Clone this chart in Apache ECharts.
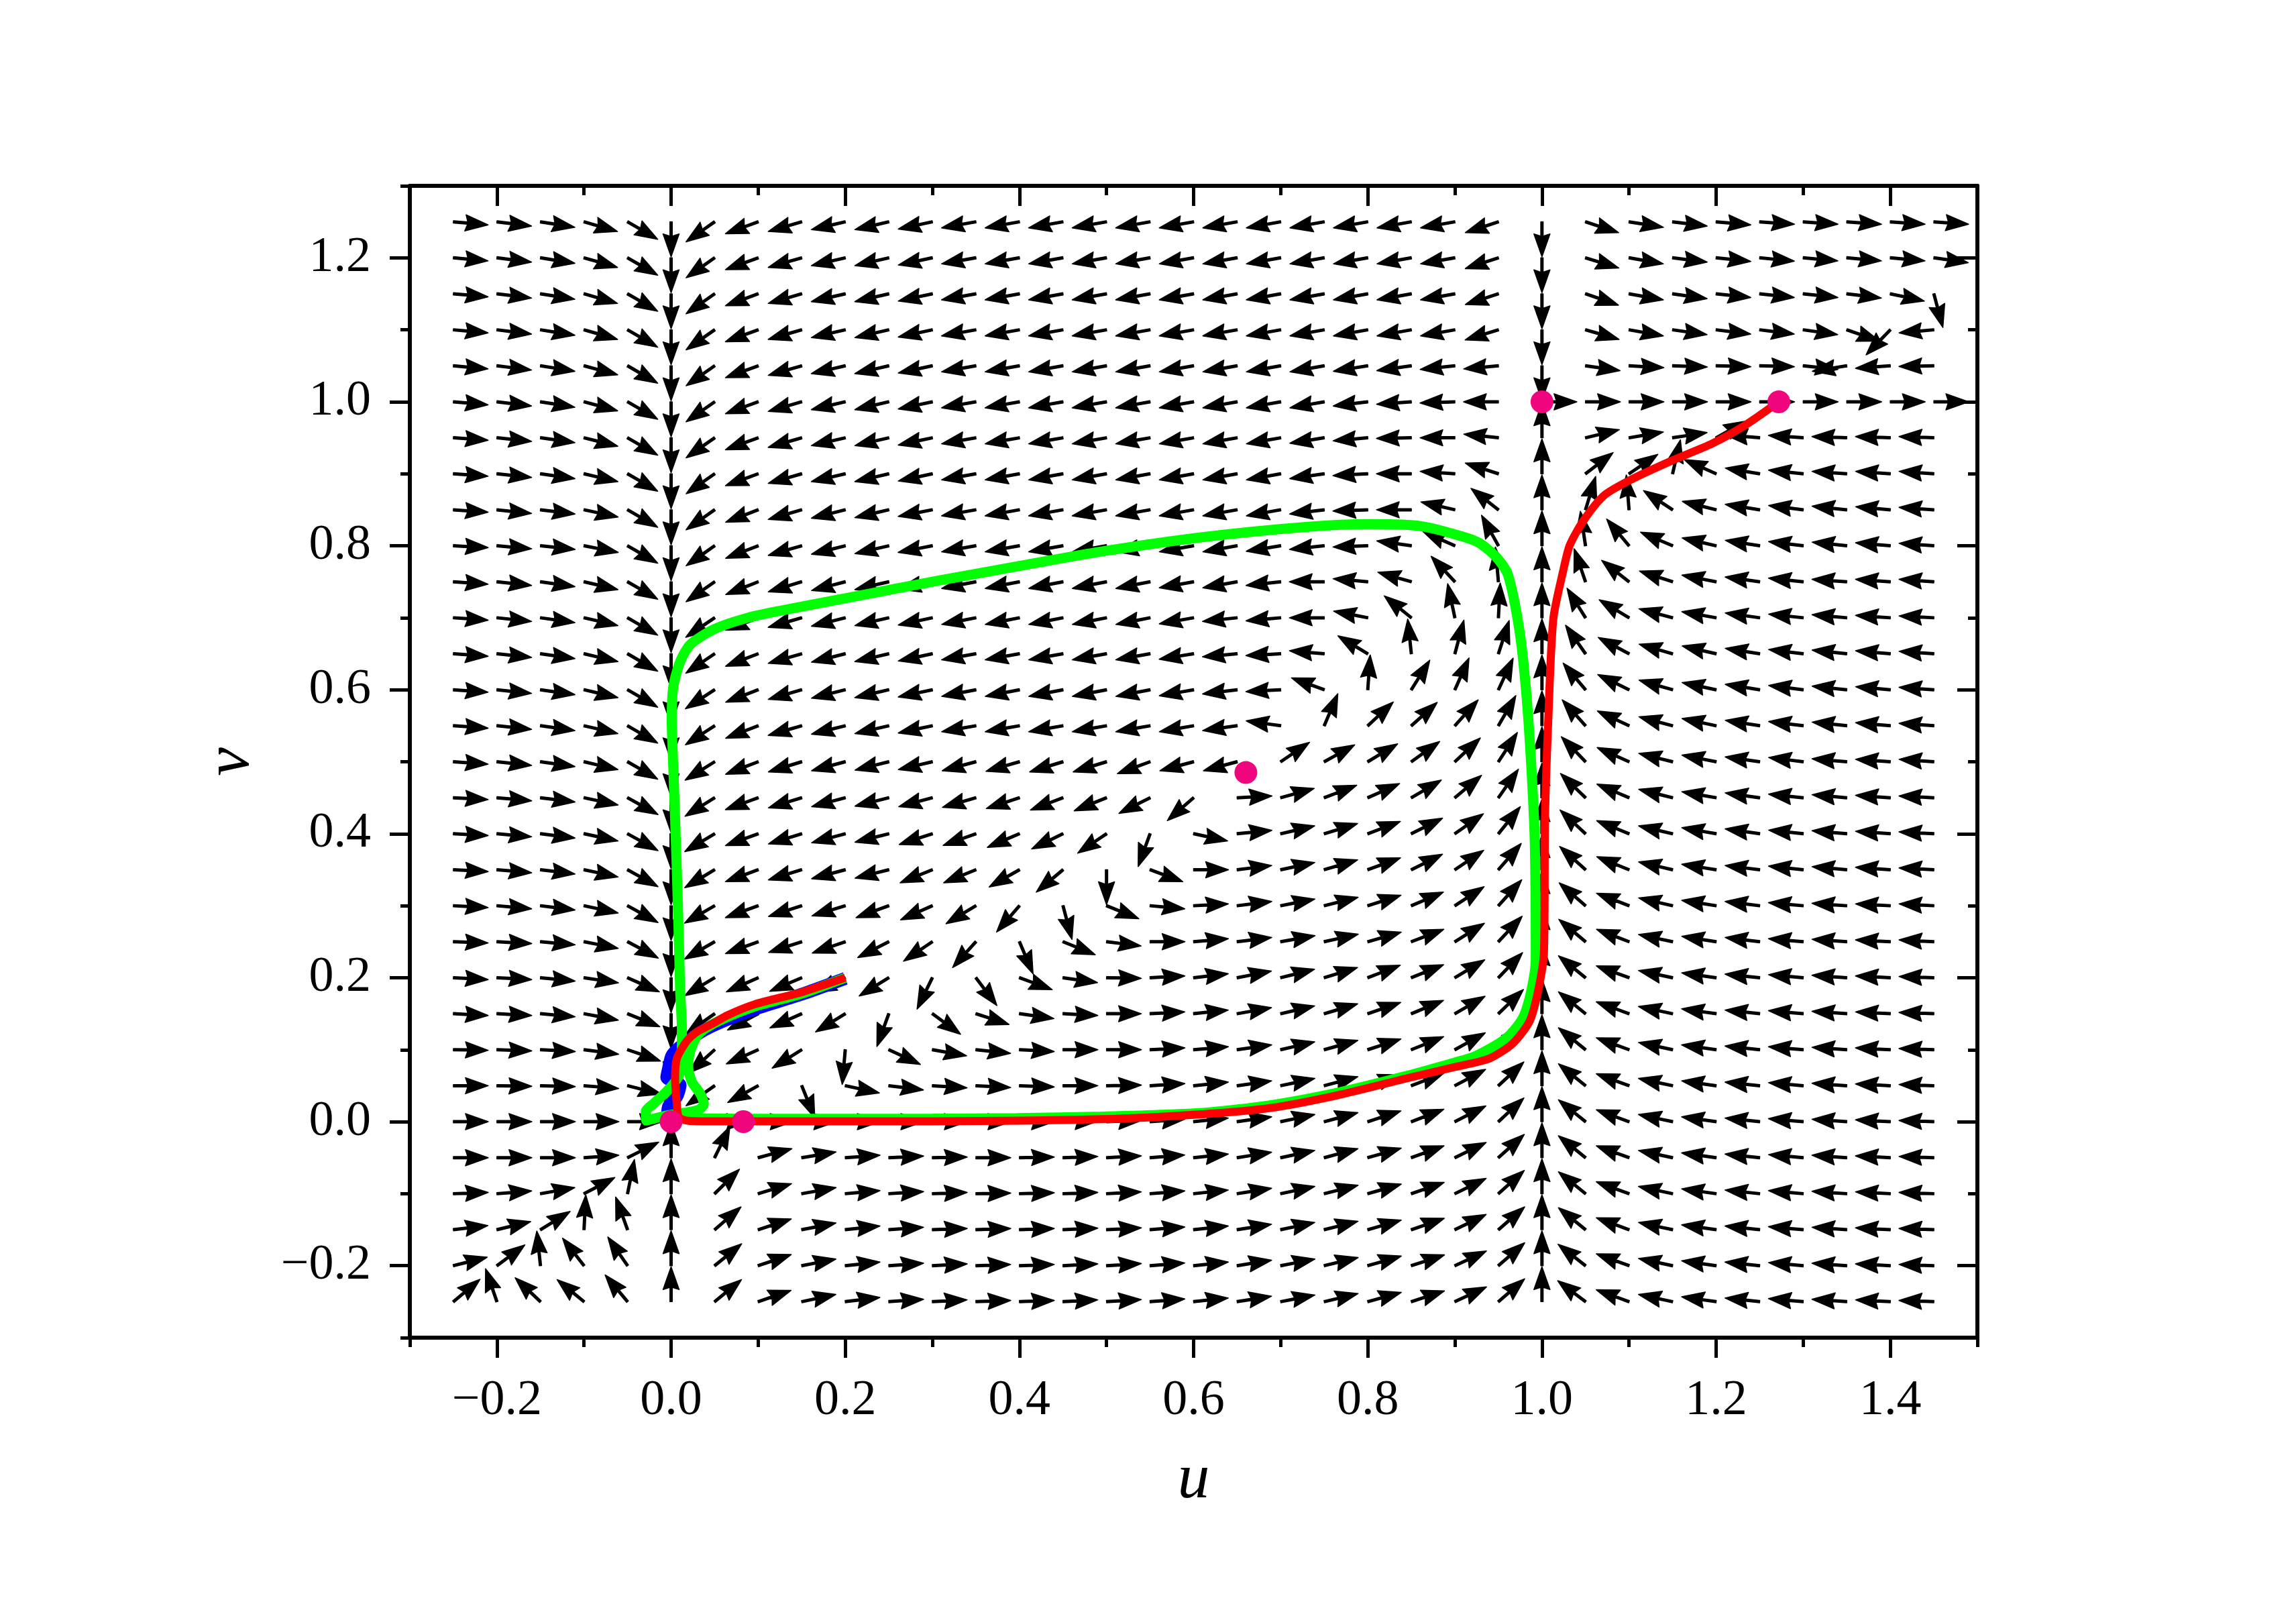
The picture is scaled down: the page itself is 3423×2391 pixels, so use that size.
<!DOCTYPE html>
<html>
<head>
<meta charset="utf-8">
<script src="https://cdn.jsdelivr.net/npm/echarts@6/dist/echarts.min.js"></script>
<style>
html,body{margin:0;padding:0;background:#fff;}
#chart{width:3423px;height:2391px;}
</style>
</head>
<body>
<div id="chart"></div>
<script>
// ---------------- data ----------------
// quiver grid (tail positions)
const uCols = [-0.25,-0.2,-0.15,-0.1,-0.05,0,0.05,0.1,0.15,0.2,0.25,0.3,0.35,0.4,0.45,0.5,0.55,0.6,0.65,0.7,0.75,0.8,0.85,0.9,0.95,1.0,1.05,1.1,1.15,1.2,1.25,1.3,1.35,1.4,1.45];
const vRows = [1.25,1.2,1.15,1.1,1.05,1.0,0.95,0.9,0.85,0.8,0.75,0.7,0.65,0.6,0.55,0.5,0.45,0.4,0.35,0.3,0.25,0.2,0.15,0.1,0.05,0,-0.05,-0.1,-0.15,-0.2,-0.25];
// arrow direction on screen, degrees counter-clockwise from +u (null = no arrow)
const arrowAngles = [
/*1.25*/ [-5,-7,-9,-16,-30,270,215,200,196,193,193,192,190,190,190,190,190,190,190,190,190,190,190,190,198,270,-18,-9,-7,-5,-4,-4,-4,-4,-4],
/*1.20*/ [-5,-7,-9,-16,-30,270,215,200,196,193,193,192,190,190,190,190,190,190,190,190,190,190,190,190,198,270,-17,-10,-7,-6,-5.5,-5,-5,-5,-8],
/*1.15*/ [-5,-7,-9,-16,-30,270,215,200,196,193,193,192,190,190,190,190,190,190,190,190,190,190,190,190,198,270,-19,-10,-8,-6,-6,-6,-7,-12,-75],
/*1.10*/ [-5,-7,-9,-16,-30,270,215,200,196,193,193,192,190,190,190,190,190,190,190,190,190,190,190,190,197,270,-16,-10,-8,-7,-7,-8,-19,226,185],
/*1.05*/ [-5,-7,-9,-15,-30,270,215,200,196,193,193,192,190,190,190,190,190,190,190,190,190,189,188,186,185,270,-8,-3,-2,-1.5,-1.5,-6,189,184,181],
/*1.00*/ [-5,-7,-9,-15,-30,270,215,200,196,193,193,192,190,190,190,190,190,190,190,190,190,187,184,182,180,0,0,0,0,0,0,0,0,0,0],
/*0.95*/ [-4,-6,-8,-14,-30,270,215,200,196,193,193,192,190,190,190,190,190,190,190,190,189,185,181,180,174,90,13.5,9.6,8.6,29,175,176,178,178,178],
/*0.90*/ [-4,-6,-8,-13,-30,270,215,200,196,193,193,192,190,190,190,190,190,190,190,190,188,183,180,176,162,90,37.5,34,77,156,170.5,174,176,176,176],
/*0.85*/ [-4,-6,-7,-12,-30,270,215,201,196,194,193,191,190,190,190,190,190,190,190,190,187,182,180,167,142,90,73,94.5,146.6,166,171,173,174,175,176],
/*0.80*/ [-3,-5,-6,-11,-30,270,215,201,196,194,193,191,190,190,190,190,190,190,190,189,186,182,172,156,119,90,98.5,130,157,167,171,173,174,175,176],
/*0.75*/ [-4,-6,-8,-13,-30,270,215,201.6,196.7,194.6,193,192,191,191,191,191,191,190,190,186,180,175,164,133,95,90,109,142,162,169,172,174,176,176,176],
/*0.70*/ [-4,-6,-8,-13,-30,270,214,201,196,194,193,192,191,191,191,191,191,190,186,185,180,169,141,102,87,90,122,149,165,170,172,174,175,176,177],
/*0.65*/ [-4,-6,-8,-13,-30,270,214,201,196,194,193,192,190,190,190,190,190,189,185,183,175,149,96,75,72,90,125,152,164,167,171,173,174,175,176],
/*0.60*/ [-4,-6,-8,-13,-30,270,213,201,196,194,193,192,191,191,191,191,191,190,187,183,160,86,58,66,65,90,130,154,164,168,171,173,174,175,176],
/*0.55*/ [-4,-6,-8,-13,-30,270,213,201,196,194,193,192,190,190,190,190,190,190,188,172,67,43,42,48,60,90,132,155,165,168,171,173,174,175,176],
/*0.50*/ [-4,-6,-8,-13,-30,270,212,201,197,195,194,193,195,196,197,197,200,195,195,34,29,31,35.5,43,57,90,134,156,166,169,172,173,175,176,176],
/*0.45*/ [-3,-5,-7,-12,-29,270,212,200,197,195,194,195,196,198,200.7,202,206.7,221,3,15.6,21,24,30.5,40,55,90,136,157,166,170,172,174,175,176,177],
/*0.40*/ [-3,-5,-7,-12,-29,270,211,200,197,195,194,198,199.6,203,206,214,250,348,5.5,13,17,20.7,26.5,35,51,90,137,158,167,170,172,174,175,176,177],
/*0.35*/ [-3,-5,-7,-12,-29,270,211,200,197,195,194,202,202,209.6,220,270,340,0,7,12,16.5,20,26.5,34,49,90,138,158,167,171,173,174,175,176,177],
/*0.30*/ [-3,-5,-7,-12,-29,270,210,200,198,197,200,204,211,229,285,338,355,3,7,11,14,17.5,23,33,48,90,139,159,167,171,173,175,176,177,177],
/*0.25*/ [-2,-3,-5,-11,-28,270,210,200,198,199,207,214,228,293,338,353,0,5,7,10,12.5,16,21,32,47,90,140,159,168,171,173,175,176,177,177],
/*0.20*/ [-3,-3,-5.5,-8.5,-24,270,211,204,203,205,211.6,244,307,340,352,359,3,6.5,11,14,17,21,22,31,46,90,141,160,168,172,174,175,176,177,178],
/*0.15*/ [-3,-3,-5,-10.7,-22,270,215,208,204,211.5,250,324,342,352,357,0,3,6,10,13,16.5,19,22.5,30,44,90,141,160,168,172,174,175,176,177,178],
/*0.10*/ [-1,-2,-3,-7.5,-19,270,222,204,212,265,335,350,354,357,0,0,3,5,8,13,15.5,18,22,29,44,90,141,160,168,172,174,175,176,177,178],
/*0.05*/ [0,-1,-1.5,-4.6,-14,270,215,209,292,348,353,356.5,357,358,0,1,3.5,6,8,12,15,18,21,28,43,90,141,160,168,172,174,175,176,177,178],
/*0.00*/ [0,0,0,0,0,null,0,0,0,0,0,0,0,0,1,2,4,6,8,12,15,18,21,27,43,90,141,160,168,172,174,175,176,177,178],
/*-0.05*/[0,0,0,4,26.6,90,64,15,9.5,4,2.7,1,0,1,2,3,4.5,6,9,12,15,16,20,26,42,90,141,160,168,172,174,175,176,177,178],
/*-0.10*/[2,4.5,10,27.7,78.6,90,44.6,16.7,10,5,3.5,2,1,1.5,2,3,4.5,6,9,12,14,16,19,26,42,90,141,160,168,172,174,175,176,177,178],
/*-0.15*/[6.8,13.5,31.6,87,110,90,40.8,18,11,6,4,2,2,2,2.5,3,4.5,6,9,12,14,16,19,26,41,90,141,160,168,172,174,175,176,177,178],
/*-0.20*/[14,36.6,96,128,124.6,90,39,18.6,11,6,4,3,2,2,3,3.5,4.5,6,9,11,13.5,16,18,25,41,90,142,160,168,172,174,175,176,177,178],
/*-0.25*/[40,109,136.6,140.6,130,90,39.4,19,12,7,4,3,2,2,3,3.5,4.5,6,9,11,13.5,15.5,18,25,41,90,143,160,168,172,174,175,176,177,178]
];

// trajectories (u, v)
const bluePath = [[0.2,0.199],[0.15,0.177],[0.1,0.158],[0.0686,0.144],[0.0376,0.127],[0.0104,0.104],[0.0007,0.0914],[-0.003,0.0737],[-0.005,0.0616],[0.0104,0.0508],[0.0066,0.035],[-0.003,0.021],[-0.004,0.012]];
const greenPath = [[0.2,0.2],[0.15,0.178],[0.0958,0.16],[0.06,0.143],[0.04,0.13],[0.0298,0.119],[0.022,0.098],[0.0196,0.077],[0.0236,0.056],[0.0337,0.0385],[0.0376,0.0245],[0.0317,0.0168],[0.0143,0.0122],[-0.0051,0.0087],[-0.0284,0.0017],[-0.029,0.0142],[-0.0206,0.0245],[-0.0051,0.042],[0.0085,0.063],[0.0124,0.0947],[0.0124,0.1285],[0.0104,0.1823],[0.0093,0.235],[0.0065,0.3526],[0.0026,0.4907],[0.0007,0.5597],[0.0026,0.6046],[0.0104,0.639],[0.0221,0.663],[0.0492,0.684],[0.088,0.700],[0.1267,0.710],[0.204,0.728],[0.3084,0.752],[0.4,0.772],[0.494,0.792],[0.6103,0.812],[0.7268,0.826],[0.8039,0.830],[0.8625,0.827],[0.9084,0.813],[0.9278,0.804],[0.947,0.785],[0.9609,0.76],[0.9744,0.6805],[0.9821,0.594],[0.9879,0.4907],[0.9918,0.387],[0.9929,0.2257],[0.9879,0.1824],[0.978,0.1438],[0.9589,0.1158],[0.9239,0.0912],[0.9006,0.0824],[0.843,0.0631],[0.7655,0.0403],[0.688,0.0228],[0.6103,0.0122],[0.494,0.007],[0.397,0.005],[0.3,0.0043],[0.1,0.004],[0.0143,0.005]];
const redPath = [[0.2,0.2],[0.15,0.18],[0.0958,0.163],[0.065,0.148],[0.049,0.137],[0.03,0.125],[0.018,0.112],[0.0066,0.0876],[0.0046,0.0597],[0.0066,0.0245],[0.009,0.006],[0.02,0.0012],[0.05,0.0005],[0.1,0.0005],[0.3,0.0006],[0.494,0.0035],[0.61,0.0104],[0.688,0.019],[0.7655,0.0368],[0.843,0.0597],[0.9,0.076],[0.9395,0.0877],[0.9666,0.1088],[0.986,0.140],[0.9957,0.1825],[1.0023,0.235],[1.0035,0.4216],[1.0073,0.5597],[1.013,0.698],[1.0247,0.767],[1.032,0.801],[1.048,0.8355],[1.0714,0.870],[1.1024,0.892],[1.1486,0.918],[1.1956,0.942],[1.234,0.968],[1.272,1.0]];
// equilibrium points
const eqPoints = [[0,0],[0.083,0],[0.66,0.485],[1,1],[1.272,1]];
// tick labels
const xMajorTicks = [-0.2,0,0.2,0.4,0.6,0.8,1.0,1.2,1.4];
const yMajorTicks = [-0.2,0,0.2,0.4,0.6,0.8,1.0,1.2];

// ---------------- chart ----------------
const arrowData = [];
vRows.forEach((v, r) => {
  uCols.forEach((u, c) => {
    const a = arrowAngles[r][c];
    if (a !== null && a !== undefined) arrowData.push([u, v, a]);
  });
});

const X_MIN = -0.3, X_MAX = 1.5, Y_MIN = -0.3, Y_MAX = 1.3;
const fmt = (val) => (val < 0 ? '\u2212' : '') + Math.abs(val).toFixed(1);
const tickFont = {fontFamily: 'Liberation Serif', fontSize: 74, color: '#000'};
const spine = {show: true, onZero: false, lineStyle: {color: '#000', width: 6}};

function makeAxis(dim, pos, major, withLabel) {
  const inside = (pos === 'top' || pos === 'right');
  const ax = {
    type: 'value', position: pos,
    min: dim === 'x' ? X_MIN : Y_MIN, max: dim === 'x' ? X_MAX : Y_MAX,
    splitLine: {show: false},
    axisLine: major ? spine : {show: false, onZero: false},
    axisTick: {show: true, inside: inside, length: major ? 30 : 14, lineStyle: {color: '#000', width: 5}},
    axisLabel: {show: false}
  };
  if (major) {
    const vals = dim === 'x' ? xMajorTicks : yMajorTicks;
    ax.axisTick.customValues = vals;
    ax.axisLabel = withLabel ? Object.assign({show: true, customValues: vals, formatter: fmt, margin: 58}, tickFont) : {show: false, customValues: vals};
  } else {
    ax.interval = 0.1;
  }
  return ax;
}

const xAxes = [makeAxis('x','bottom',true,true), makeAxis('x','bottom',false,false), makeAxis('x','top',true,false), makeAxis('x','top',false,false)];
const yAxes = [makeAxis('y','left',true,true), makeAxis('y','left',false,false), makeAxis('y','right',true,false), makeAxis('y','right',false,false)];
Object.assign(xAxes[0], {name: 'u', nameLocation: 'middle', nameGap: 165,
  nameTextStyle: {fontFamily: 'Liberation Serif', fontStyle: 'italic', fontSize: 96, color: '#000'}});
Object.assign(yAxes[0], {name: 'v', nameLocation: 'middle', nameGap: 218, nameRotate: 90,
  nameTextStyle: {fontFamily: 'Liberation Serif', fontStyle: 'italic', fontSize: 96, color: '#000'}});

function renderArrow(params, api) {
  const p = api.coord([api.value(0), api.value(1)]);
  const a = api.value(2) * Math.PI / 180;
  const c = Math.cos(a), s = -Math.sin(a);
  const L = 52, hl = 34, hw = 24, w = 3.5, nt = 0.9;
  const loc = [[0,-w/2],[L-hl*nt,-w/2],[L-hl,-hw/2],[L,0],[L-hl,hw/2],[L-hl*nt,w/2],[0,w/2]];
  const pts = loc.map(q => [p[0] + q[0]*c - q[1]*s, p[1] + q[0]*s + q[1]*c]);
  return {type: 'polygon', shape: {points: pts},
          style: {fill: '#000', stroke: '#000', lineWidth: 1.5, lineJoin: 'round'}};
}

const chart = echarts.init(document.getElementById('chart'), null, {renderer: 'canvas'});
chart.setOption({
  animation: false,
  backgroundColor: '#fff',
  grid: {left: 611, top: 277, right: 475, bottom: 397, containLabel: false},
  xAxis: xAxes,
  yAxis: yAxes,
  series: [
    {type: 'custom', name: 'field', xAxisIndex: 0, yAxisIndex: 0, renderItem: renderArrow,
     data: arrowData, encode: {x: 0, y: 1}, silent: true, clip: false, z: 2},
    {type: 'line', name: 'blue', xAxisIndex: 0, yAxisIndex: 0, data: bluePath, showSymbol: false, smooth: 0.25,
     lineStyle: {color: '#0000ff', width: 19}, z: 3, silent: true},
    {type: 'line', name: 'green', xAxisIndex: 0, yAxisIndex: 0, data: greenPath, showSymbol: false, smooth: 0.25,
     lineStyle: {color: '#00ff00', width: 15}, z: 4, silent: true},
    {type: 'line', name: 'red', xAxisIndex: 0, yAxisIndex: 0, data: redPath, showSymbol: false, smooth: 0.25,
     lineStyle: {color: '#ff0000', width: 12}, z: 5, silent: true},
    {type: 'scatter', name: 'equilibria', xAxisIndex: 0, yAxisIndex: 0, data: eqPoints, symbol: 'circle', symbolSize: 34,
     itemStyle: {color: '#f0057f', opacity: 1}, z: 6, silent: true}
  ]
});
</script>
</body>
</html>
